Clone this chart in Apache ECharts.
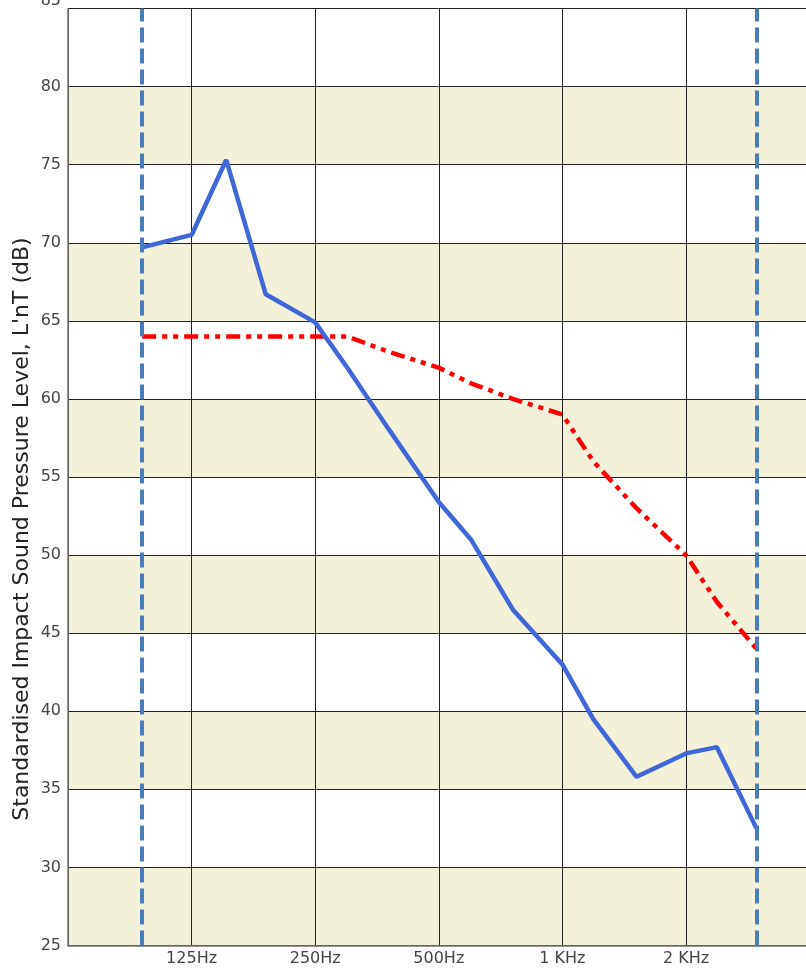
<!DOCTYPE html>
<html>
<head>
<meta charset="utf-8">
<script src="https://cdn.jsdelivr.net/npm/echarts@6/dist/echarts.min.js"></script>
<style>html,body{margin:0;padding:0;background:#fff;}#c{width:806px;height:972px;}</style>
</head>
<body>
<div id="c"></div>
<script>
// octave-position of each third-octave band (125Hz = 1, 250Hz = 2, ...)
var bandPos = [0.6, 1, 1.28, 1.6, 2, 2.26, 2.6, 3, 3.26, 3.6, 4, 4.25, 4.6, 5, 5.25, 5.57];
var measured = [69.7, 70.5, 75.3, 66.7, 64.9, 62.0, 58.0, 53.4, 51.0, 46.5, 43.0, 39.5, 35.8, 37.3, 37.7, 32.5];
var reference = [64, 64, 64, 64, 64, 64, 63, 62, 61, 60, 59, 56, 53, 50, 47, 44];
var xTickLabels = ['', '125Hz', '250Hz', '500Hz', '1 KHz', '2 KHz', ''];
var yTitle = "Standardised Impact Sound Pressure Level, L'nT (dB)";

function pairs(xs, ys) { return xs.map(function (x, i) { return [x, ys[i]]; }); }

var chart = echarts.init(document.getElementById('c'), null, { renderer: 'canvas' });
chart.setOption({
  animation: false,
  backgroundColor: '#ffffff',
  grid: { left: 68, top: 8.5, width: 741.6, height: 937, containLabel: false, outerBoundsMode: 'none' },
  xAxis: {
    type: 'value', min: 0, max: 6, interval: 1,
    axisLine: { show: true, lineStyle: { color: '#777', width: 1.5 } },
    axisTick: { show: false },
    axisLabel: {
      color: '#444', fontFamily: 'DejaVu Sans', fontSize: 16, margin: 5,
      formatter: function (v) { return xTickLabels[Math.round(v)] || ''; }
    },
    splitLine: { show: true, lineStyle: { color: '#222', width: 1 } }
  },
  yAxis: {
    type: 'value', min: 25, max: 85, interval: 5,
    axisLine: { show: true, lineStyle: { color: '#777', width: 1.5 } },
    axisTick: { show: false },
    axisLabel: { color: '#444', fontFamily: 'DejaVu Sans', fontSize: 16, margin: 7, verticalAlignMaxLabel: 'bottom' },
    splitLine: { show: true, lineStyle: { color: '#222', width: 1 } },
    splitArea: { show: true, areaStyle: { color: ['#f3f1da', '#ffffff'] } }
  },
  graphic: [{
    type: 'text', x: 22, y: 529, rotation: Math.PI / 2,
    style: { text: yTitle, fill: '#222', font: '22px "DejaVu Sans"', align: 'center', verticalAlign: 'middle' }
  }],
  series: [
    {
      name: 'Reference', type: 'line', data: pairs(bandPos, reference),
      symbol: 'none', z: 3,
      lineStyle: { color: '#ff0000', width: 4.5, type: [14, 6, 5, 6, 5, 6] }
    },
    {
      name: 'Measured', type: 'line', data: pairs(bandPos, measured),
      symbol: 'none', z: 4,
      lineStyle: { color: '#4066d8', width: 4.5 },
      markLine: {
        silent: true, symbol: 'none', label: { show: false },
        lineStyle: { color: '#4a7db8', width: 4, type: [15, 6] },
        data: [{ xAxis: bandPos[0] }, { xAxis: bandPos[bandPos.length - 1] }]
      }
    }
  ]
});
</script>
</body>
</html>
